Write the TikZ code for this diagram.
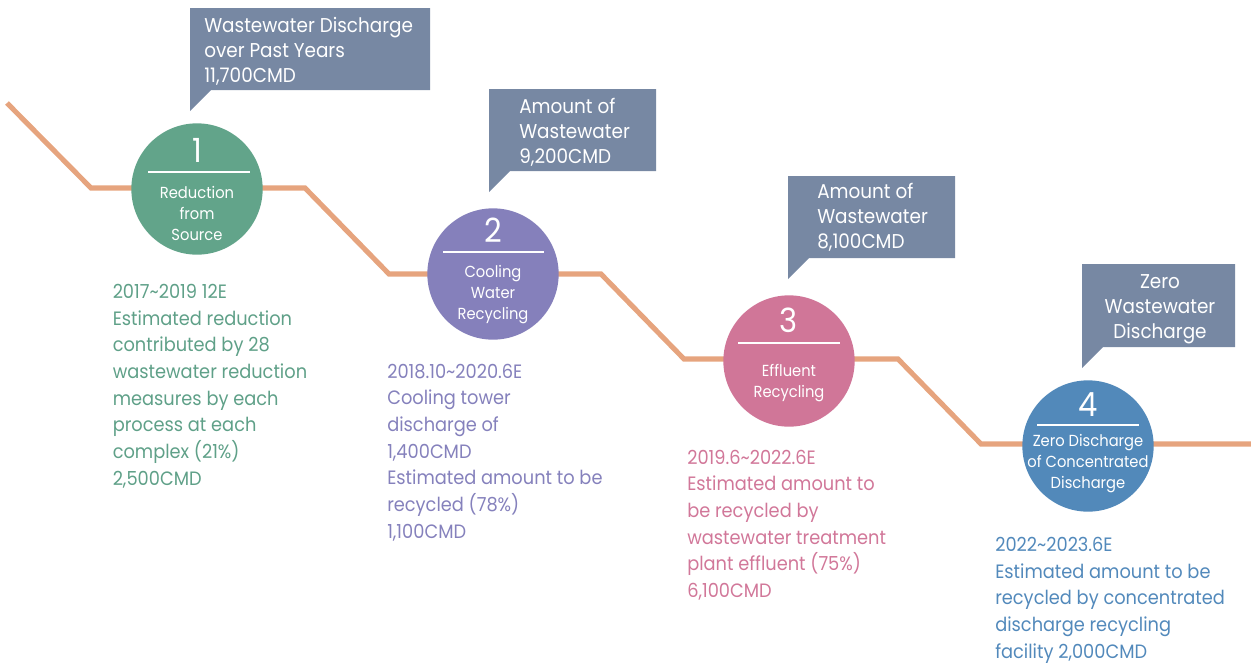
\documentclass[tikz,border=0pt]{standalone}
\usepackage{fontspec}
\setmainfont{Poppins}[FakeStretch=0.92]
\definecolor{lineC}{HTML}{E6A47E}
\definecolor{boxC}{HTML}{7788A3}
\definecolor{cA}{HTML}{62A48A}
\definecolor{cB}{HTML}{8580BB}
\definecolor{cC}{HTML}{D07698}
\definecolor{cD}{HTML}{5289BA}
\definecolor{tA}{HTML}{5FA088}
\definecolor{tB}{HTML}{8581BC}
\definecolor{tC}{HTML}{D17799}
\definecolor{tD}{HTML}{5289BB}
\tikzset{
  pathline/.style={draw=lineC, line width=3.8pt, line join=miter},
  stage/.style={circle, minimum size=98.5pt, inner sep=0pt, draw=none},
  stagenum/.style={text=white, anchor=base, inner sep=0pt, font={\fontsize{25pt}{25pt}\selectfont}},
  stagetxt/.style={text=white, anchor=base, inner sep=0pt, align=center, font={\fontsize{12pt}{15.75pt}\selectfont}},
  sepline/.style={draw=white, line width=1.6pt},
  callout/.style={fill=boxC},
  callouttxt/.style={text=white, anchor=base west, inner sep=0pt, align=left, font={\fontsize{15pt}{18.4pt}\selectfont}},
  desc/.style={anchor=base west, inner sep=0pt, align=left, font={\fontsize{14.5pt}{20pt}\selectfont}}
}
\begin{document}
\begin{tikzpicture}[x=0.75pt,y=-0.75pt]
\useasboundingbox (0,0) rectangle (1251,664);
% main path
\coordinate (p0) at (7,103);
\coordinate (p1) at (91,188);
\coordinate (p2) at (305,188);
\coordinate (p3) at (389,274);
\coordinate (p4) at (601,274);
\coordinate (p5) at (684,359);
\coordinate (p6) at (898,359);
\coordinate (p7) at (981,444);
\coordinate (p8) at (1253,444);
\draw[pathline] (p0) -- (p1) -- (p2) -- (p3) -- (p4) -- (p5) -- (p6) -- (p7) -- (p8);
% callouts
\fill[callout] (190,8) -- (430,8) -- (430,90) -- (211,90) -- (190,111) -- cycle;
\node[callouttxt] (c1) at (204,82) {Wastewater Discharge\\over Past Years\\11,700CMD};
\fill[callout] (489,89) -- (656,89) -- (656,171) -- (510,171) -- (489,192) -- cycle;
\node[callouttxt] (c2) at (519,163) {Amount of\\Wastewater\\9,200CMD};
\fill[callout] (788,176) -- (955,176) -- (955,258) -- (809,258) -- (788,279) -- cycle;
\node[callouttxt] (c3) at (817,248) {Amount of\\Wastewater\\8,100CMD};
\fill[callout] (1082,264) -- (1235,264) -- (1235,347) -- (1103,347) -- (1082,368) -- cycle;
\node[callouttxt, anchor=base, align=center] (c4) at (1160,338) {Zero\\Wastewater\\Discharge};
% stage circles
\node[stage, fill=cA] (s1) at (197,189) {};
\node[stagenum] (n1) at (197,162) {1};
\draw[sepline] (148,172) -- (250,172);
\node[stagetxt] (t1) at (197,240) {Reduction\\from\\Source};
\node[stage, fill=cB] (s2) at (493,274) {};
\node[stagenum] (n2) at (493,242) {2};
\draw[sepline] (443,252) -- (544,252);
\node[stagetxt] (t2) at (493,319) {Cooling\\Water\\Recycling};
\node[stage, fill=cC] (s3) at (789,361) {};
\node[stagenum] (n3) at (789,332) {3};
\draw[sepline] (738,343) -- (840,343);
\node[stagetxt] (t3) at (789,397) {Effluent\\Recycling};
\node[stage, fill=cD] (s4) at (1088,446) {};
\node[stagenum] (n4) at (1088,416) {4};
\draw[sepline] (1037,425) -- (1139,425);
\node[stagetxt] (t4) at (1088,488) {Zero Discharge\\of Concentrated\\Discharge};
% descriptions
\node[desc, text=tA] (d1) at (112.5,485) {2017\char`~2019 12E\\Estimated reduction\\contributed by 28\\wastewater reduction\\measures by each\\process at each\\complex (21\%)\\2,500CMD};
\node[desc, text=tB] (d2) at (387,538) {2018.10\char`~2020.6E\\Cooling tower\\discharge of\\1,400CMD\\Estimated amount to be\\recycled (78\%)\\1,100CMD};
\node[desc, text=tC] (d3) at (687,597.5) {2019.6\char`~2022.6E\\Estimated amount to\\be recycled by\\wastewater treatment\\plant effluent (75\%)\\6,100CMD};
\node[desc, text=tD] (d4) at (995,658) {2022\char`~2023.6E\\Estimated amount to be\\recycled by concentrated\\discharge recycling\\facility 2,000CMD};
\end{tikzpicture}
\end{document}
